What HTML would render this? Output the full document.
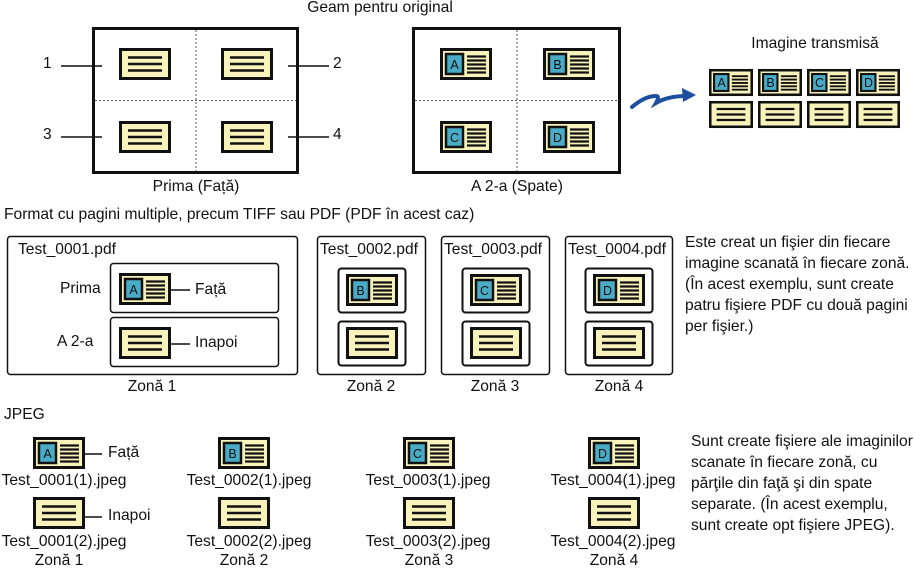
<!DOCTYPE html>
<html><head><meta charset="utf-8"><style>
html,body{margin:0;padding:0;background:#fff}
svg{display:block}
text{font-family:"Liberation Sans",Arial,sans-serif;font-size:15.6px;fill:#111}
.l{font-size:12.5px;text-anchor:middle}
.m{text-anchor:middle}
</style></head><body>
<svg width="915" height="568" viewBox="0 0 915 568" xmlns="http://www.w3.org/2000/svg">
<defs>
<symbol id="F" viewBox="0 0 52 32" width="52" height="32">
<rect x="1.5" y="1.5" width="49" height="29" fill="#f8f3bb" stroke="#111" stroke-width="3"/>
<rect x="6" y="6" width="17" height="20" fill="#4aabc6" stroke="#111" stroke-width="2.5"/>
<g stroke="#111" stroke-width="2.2"><line x1="27" y1="8.5" x2="46" y2="8.5"/><line x1="27" y1="12.5" x2="46" y2="12.5"/><line x1="27" y1="16.5" x2="46" y2="16.5"/><line x1="27" y1="20.5" x2="46" y2="20.5"/><line x1="27" y1="24.5" x2="46" y2="24.5"/></g>
</symbol>
<symbol id="B" viewBox="0 0 52 32" width="52" height="32">
<rect x="1.5" y="1.5" width="49" height="29" fill="#f8f3bb" stroke="#111" stroke-width="3"/>
<g stroke="#111" stroke-width="2.6"><line x1="9" y1="9.5" x2="43" y2="9.5"/><line x1="9" y1="16" x2="43" y2="16"/><line x1="9" y1="22.5" x2="43" y2="22.5"/></g>
</symbol>
</defs>

<text x="380" y="12" class="m">Geam pentru original</text>
<rect x="93.5" y="28.5" width="204" height="144" fill="#fff" stroke="#111" stroke-width="3"/>
<g stroke="#555" stroke-width="1" stroke-dasharray="2,2"><line x1="196" y1="30" x2="196" y2="171"/><line x1="95" y1="100.5" x2="296" y2="100.5"/><line x1="517" y1="30" x2="517" y2="171"/><line x1="415" y1="100.5" x2="619" y2="100.5"/></g>
<use href="#B" x="119" y="48"/><use href="#B" x="221" y="48"/><use href="#B" x="119" y="121"/><use href="#B" x="221" y="121"/>
<g stroke="#111" stroke-width="1.5"><line x1="61" y1="66" x2="102" y2="66"/><line x1="288" y1="66" x2="329" y2="66"/><line x1="61" y1="137" x2="102" y2="137"/><line x1="288" y1="137" x2="329" y2="137"/></g>
<text x="43" y="68">1</text><text x="333" y="68">2</text><text x="43" y="139">3</text><text x="333" y="139">4</text>
<text x="196" y="191" class="m">Prima (Față)</text>
<rect x="413.5" y="28.5" width="206" height="144" fill="none" stroke="#111" stroke-width="3"/>
<use href="#F" x="440" y="48"/><use href="#F" x="543" y="48"/><use href="#F" x="440" y="121"/><use href="#F" x="543" y="121"/>
<text x="454.5" y="69" class="l">A</text><text x="557.5" y="69" class="l">B</text><text x="454.5" y="142" class="l">C</text><text x="557.5" y="142" class="l">D</text>
<text x="517" y="191" class="m">A 2-a (Spate)</text>
<path d="M632 107 Q645 96 656 96 Q660 96 656 103 Q668 96 686 96" fill="none" stroke="#1e4ea0" stroke-width="4" stroke-linecap="round"/>
<path d="M682 88 L696 95 L683 102 Z" fill="#1e4ea0"/>
<text x="815" y="48" class="m">Imagine transmisă</text>
<g>
<use href="#F" x="709" y="68" width="44" height="29"/><use href="#F" x="758" y="68" width="44" height="29"/><use href="#F" x="807" y="68" width="44" height="29"/><use href="#F" x="856" y="68" width="44" height="29"/>
<use href="#B" x="709" y="100" width="44" height="29"/><use href="#B" x="758" y="100" width="44" height="29"/><use href="#B" x="807" y="100" width="44" height="29"/><use href="#B" x="856" y="100" width="44" height="29"/>
</g>
<text x="721.5" y="87" class="l">A</text><text x="770.5" y="87" class="l">B</text><text x="819.5" y="87" class="l">C</text><text x="868.5" y="87" class="l">D</text>

<text x="4" y="219">Format cu pagini multiple, precum TIFF sau PDF (PDF în acest caz)</text>
<rect x="7.5" y="236.5" width="290" height="138" rx="3" fill="none" stroke="#111" stroke-width="1.5"/>
<text x="18" y="254">Test_0001.pdf</text>
<rect x="110.5" y="263.5" width="168" height="49" rx="3" fill="none" stroke="#111" stroke-width="1.5"/>
<rect x="110.5" y="317.5" width="168" height="49" rx="3" fill="none" stroke="#111" stroke-width="1.5"/>
<use href="#F" x="119" y="273"/><use href="#B" x="119" y="327"/>
<text x="133.5" y="294" class="l">A</text>
<g stroke="#111" stroke-width="1.5"><line x1="168" y1="290" x2="190" y2="290"/><line x1="168" y1="344" x2="190" y2="344"/></g>
<text x="60" y="293">Prima</text><text x="57" y="346">A 2-a</text>
<text x="195" y="294">Față</text><text x="195" y="347">Inapoi</text>
<text x="152" y="391" class="m">Zonă 1</text>
<g fill="none" stroke="#111">
<rect x="317.5" y="236.5" width="108" height="138" rx="3" stroke-width="1.5"/>
<rect x="441.5" y="236.5" width="108" height="138" rx="3" stroke-width="1.5"/>
<rect x="565.5" y="236.5" width="107" height="138" rx="3" stroke-width="1.5"/>
<rect x="338.5" y="268.5" width="67" height="44" rx="3" stroke-width="2"/>
<rect x="338.5" y="321.5" width="67" height="44" rx="3" stroke-width="2"/>
<rect x="462.5" y="268.5" width="67" height="44" rx="3" stroke-width="2"/>
<rect x="462.5" y="321.5" width="67" height="44" rx="3" stroke-width="2"/>
<rect x="585.5" y="268.5" width="67" height="44" rx="3" stroke-width="2"/>
<rect x="585.5" y="321.5" width="67" height="44" rx="3" stroke-width="2"/>
</g>
<text x="320" y="254">Test_0002.pdf</text><text x="444" y="254">Test_0003.pdf</text><text x="568" y="254">Test_0004.pdf</text>
<use href="#F" x="346" y="274"/><use href="#B" x="346" y="327"/>
<use href="#F" x="470" y="274"/><use href="#B" x="470" y="327"/>
<use href="#F" x="593" y="274"/><use href="#B" x="593" y="327"/>
<text x="360.5" y="295" class="l">B</text><text x="484.5" y="295" class="l">C</text><text x="607.5" y="295" class="l">D</text>
<text x="371" y="391" class="m">Zonă 2</text><text x="495" y="391" class="m">Zonă 3</text><text x="619" y="391" class="m">Zonă 4</text>
<text x="685" y="247">Este creat un fişier din fiecare</text>
<text x="685" y="268">imagine scanată în fiecare zonă.</text>
<text x="685" y="289">(În acest exemplu, sunt create</text>
<text x="685" y="310">patru fişiere PDF cu două pagini</text>
<text x="685" y="331">per fişier.)</text>

<text x="4" y="419">JPEG</text>
<use href="#F" x="33" y="437"/><use href="#F" x="218" y="437"/><use href="#F" x="403" y="437"/><use href="#F" x="588" y="437"/>
<text x="47.5" y="458" class="l">A</text><text x="232.5" y="458" class="l">B</text><text x="417.5" y="458" class="l">C</text><text x="602.5" y="458" class="l">D</text>
<use href="#B" x="33" y="497"/><use href="#B" x="218" y="497"/><use href="#B" x="403" y="497"/><use href="#B" x="588" y="497"/>
<g stroke="#111" stroke-width="1.5"><line x1="82" y1="454" x2="102" y2="454"/><line x1="82" y1="517" x2="102" y2="517"/></g>
<text x="108" y="457">Față</text><text x="108" y="520">Inapoi</text>
<text x="64" y="485" class="m">Test_0001(1).jpeg</text><text x="249" y="485" class="m">Test_0002(1).jpeg</text><text x="428" y="485" class="m">Test_0003(1).jpeg</text><text x="613" y="485" class="m">Test_0004(1).jpeg</text>
<text x="64" y="546" class="m">Test_0001(2).jpeg</text><text x="249" y="546" class="m">Test_0002(2).jpeg</text><text x="428" y="546" class="m">Test_0003(2).jpeg</text><text x="613" y="546" class="m">Test_0004(2).jpeg</text>
<text x="59" y="565" class="m">Zonă 1</text><text x="244" y="565" class="m">Zonă 2</text><text x="429" y="565" class="m">Zonă 3</text><text x="614" y="565" class="m">Zonă 4</text>
<text x="691" y="446">Sunt create fişiere ale imaginilor</text>
<text x="691" y="467">scanate în fiecare zonă, cu</text>
<text x="691" y="488">părţile din faţă şi din spate</text>
<text x="691" y="509">separate. (În acest exemplu,</text>
<text x="691" y="530">sunt create opt fişiere JPEG).</text>
</svg>
</body></html>
